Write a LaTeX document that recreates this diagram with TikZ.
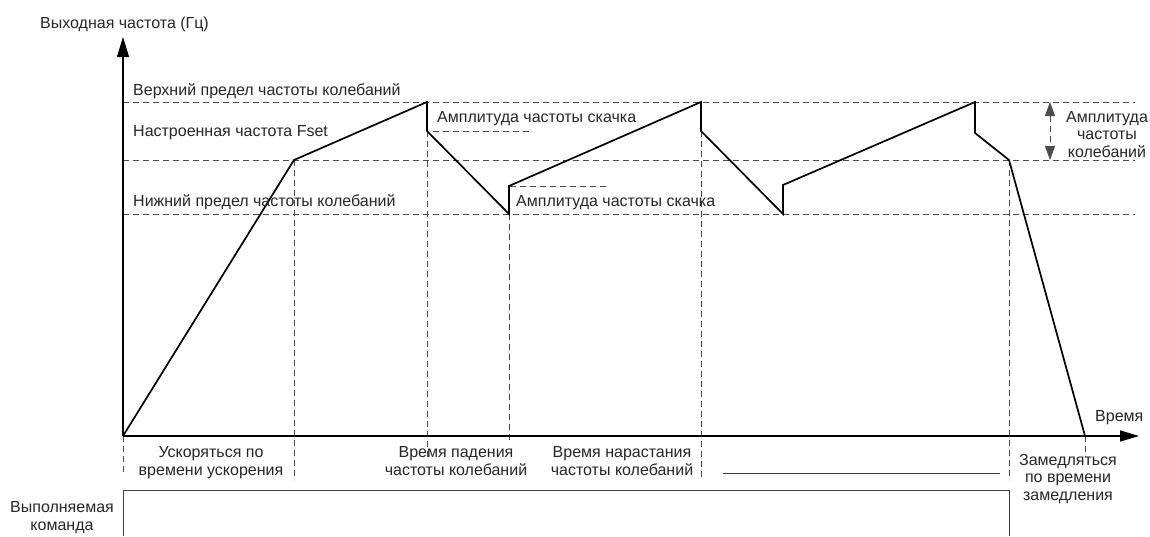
\documentclass[tikz,border=0pt]{standalone}
\usepackage{fontspec}
\setmainfont{Liberation Sans}
\usetikzlibrary{arrows.meta}
\begin{document}
\begin{tikzpicture}[x=1pt,y=-1pt,
  guide/.style={dash pattern=on 6pt off 4pt, draw=black!70, line width=0.8pt},
  curve/.style={line width=1.7pt, line join=miter, line cap=butt},
  axis/.style={line width=1.1pt},
  lbl/.style={font=\fontsize{16}{17.5}\selectfont, inner sep=0pt, text=black!85},
  ctr/.style={lbl, align=center, anchor=base}]
\useasboundingbox (0,0) rectangle (1150,536);
% key points
\coordinate (O) at (123,436);
\coordinate (Ytip) at (123,37);
\coordinate (Xtip) at (1139,436);
\coordinate (p1) at (294,160);
\coordinate (p2) at (427,102);
\coordinate (p3) at (427,131);
\coordinate (p4) at (509,214);
\coordinate (p5) at (509,186);
\coordinate (p6) at (701,102);
\coordinate (p7) at (701,131);
\coordinate (p8) at (783,214);
\coordinate (p9) at (783,185);
\coordinate (p10) at (975,102);
\coordinate (p11) at (975,133);
\coordinate (p12) at (1009,160);
\coordinate (p13) at (1085,436);
% level lines
\coordinate (uL) at (123,102); \coordinate (uR) at (1135,102);
\coordinate (sL) at (123,160); \coordinate (sR) at (1135,160);
\coordinate (lL) at (123,214); \coordinate (lR) at (1135,214);
\draw[guide] (uL) -- (uR);
\draw[guide] (sL) -- (sR);
\draw[guide] (lL) -- (lR);
% jump guides
\coordinate (j1a) at (433,131); \coordinate (j1b) at (532,131);
\coordinate (j2a) at (510,186); \coordinate (j2b) at (608,186);
\draw[guide] (j1a) -- (j1b);
\draw[guide] (j2a) -- (j2b);
% vertical guides
\coordinate (v0) at (123,472);
\coordinate (v1) at (294,480);
\coordinate (v2) at (427,460);
\coordinate (v3) at (509,442);
\coordinate (v4) at (701,477);
\coordinate (v5) at (1009,480);
\coordinate (v6) at (1085,457);
\draw[guide] (O) -- (v0);
\draw[guide] (p1) -- (v1);
\draw[guide] (p3) -- (v2);
\draw[guide] (p4) -- (v3);
\draw[guide] (p7) -- (v4);
\draw[guide] (p12) -- (v5);
\draw[guide] (p13) -- (v6);
% amplitude arrow
\coordinate (aT) at (1050,102);
\coordinate (aB) at (1050,160);
\draw[guide, {Triangle[length=14pt,width=10pt]}-{Triangle[length=14pt,width=10pt]}] (aT) -- (aB);
% axes
\draw[axis, -{Triangle[length=20pt,width=12pt]}] (O) -- (Ytip);
\draw[axis, -{Triangle[length=19pt,width=11pt]}] (O) -- (Xtip);
% curve
\draw[curve] (O) -- (p1) -- (p2) -- (p3) -- (p4) -- (p5) -- (p6) -- (p7) -- (p8) -- (p9) -- (p10) -- (p11) -- (p12) -- (p13);
% command box
\coordinate (bL) at (123,536); \coordinate (bTL) at (123,490);
\coordinate (bTR) at (1009,490); \coordinate (bR) at (1009,536);
\draw[line width=0.9pt, black!75] (bL) -- (bTL) -- (bTR) -- (bR);
\coordinate (h1) at (723,473); \coordinate (h2) at (1000,473);
\draw[line width=0.8pt, black!75] (h1) -- (h2);
% labels
\node[lbl, anchor=base west] (ylab) at (40,28) {Выходная частота (Гц)};
\node[lbl, anchor=base west] (up) at (133,95) {Верхний предел частоты колебаний};
\node[lbl, anchor=base west] (fs) at (133,136) {Настроенная частота Fset};
\node[lbl, anchor=base west] (lo) at (133,206) {Нижний предел частоты колебаний};
\node[lbl, anchor=base west] (j1) at (437,122) {Амплитуда частоты скачка};
\node[lbl, anchor=base west] (j2) at (516,206) {Амплитуда частоты скачка};
\node[lbl, anchor=base west] (t) at (1095,421) {Время};
\node[ctr] (amp) at (1107,157) {Амплитуда\\частоты\\колебаний};
\node[ctr] (acc) at (211,475) {Ускоряться по\\времени ускорения};
\node[ctr] (fall) at (456,475) {Время падения\\частоты колебаний};
\node[ctr] (rise) at (622,475) {Время нарастания\\частоты колебаний};
\node[ctr] (dec) at (1068,500) {Замедляться\\по времени\\замедления};
\node[ctr] (cmd) at (62,530) {Выполняемая\\команда};
\end{tikzpicture}
\end{document}
